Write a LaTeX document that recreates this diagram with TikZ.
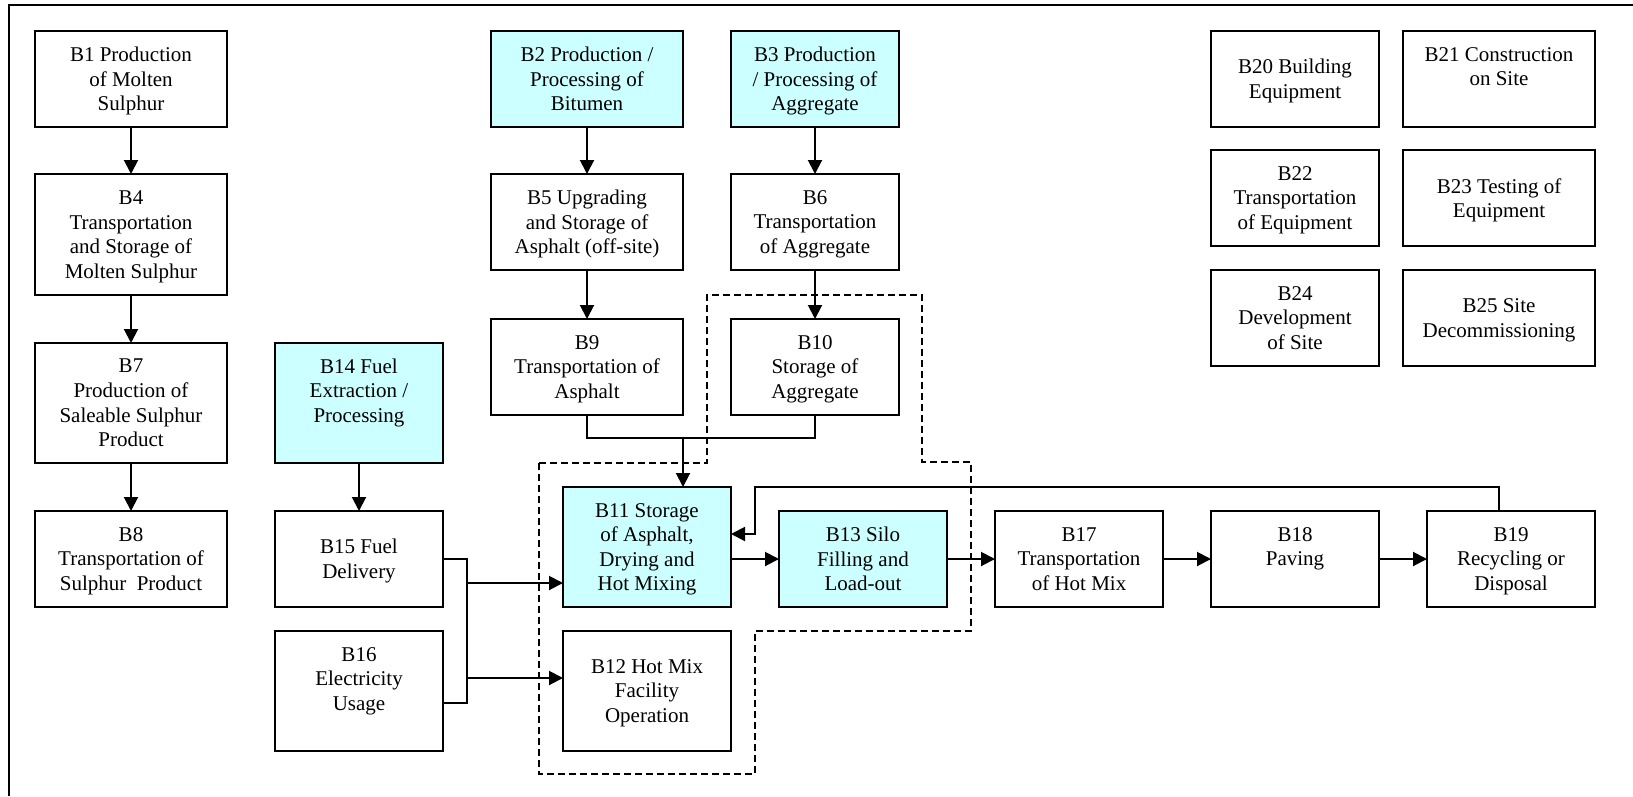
\documentclass[tikz,border=0pt]{standalone}
\usepackage{fontspec}
\setmainfont{Liberation Serif}
\usetikzlibrary{positioning,arrows.meta}
\definecolor{procfill}{RGB}{204,255,255}
\tikzset{
  blk/.style={draw, line width=2pt, inner sep=0pt, outer sep=0pt, align=center,
    minimum width=168pt, minimum height=96pt, font=\fontsize{21}{24.6}\selectfont, text depth=-3pt},
  wide/.style={minimum width=192pt},
  tall/.style={minimum height=120pt},
  hot/.style={fill=procfill},
  flow/.style={line width=2pt, -{Triangle[length=14pt,width=14pt]}},
  link/.style={line width=2pt},
  zone/.style={line width=1.8pt, dash pattern=on 7pt off 4pt}
}

\begin{document}
\begin{tikzpicture}[x=1pt,y=-1pt]
  \useasboundingbox (0,0) rectangle (1633,796);
  \draw[link] (1633,5) -- (9,5) -- (9,796);

  \node[blk, wide] (b1) at (131,79) {B1 Production\\ of Molten\\ Sulphur};
  \node[blk, wide, minimum height=121pt, below=47pt of b1] (b4) {B4\\ Transportation\\ and Storage of\\ Molten Sulphur};
  \node[blk, wide, tall, below=48pt of b4] (b7) {B7\\ Production of\\ Saleable Sulphur\\ Product};
  \node[blk, wide, below=48pt of b7] (b8) {B8\\ Transportation of\\ Sulphur~~Product};

  \node[blk, wide, hot, right=264pt of b1] (b2) {B2 Production /\\ Processing of\\ Bitumen};
  \node[blk, hot, right=48pt of b2] (b3) {B3 Production\\ / Processing of\\ Aggregate};
  \node[blk, wide, below=47pt of b2] (b5) {B5 Upgrading\\ and Storage of\\ Asphalt (off-site)};
  \node[blk, below=47pt of b3] (b6) {B6\\ Transportation\\ of Aggregate};
  \node[blk, wide, below=49pt of b5] (b9) {B9\\ Transportation of\\ Asphalt};
  \node[blk, below=49pt of b6] (b10) {B10\\ Storage of\\ Aggregate};

  \node[blk, tall, hot, right=48pt of b7] (b14) {B14 Fuel\\ Extraction /\\ Processing\\ \mbox{}};
  \node[blk, below=48pt of b14] (b15) {B15 Fuel\\ Delivery};
  \node[blk, tall, below=24pt of b15] (b16) {B16\\ Electricity\\ Usage\\ \mbox{}};

  \node[blk, tall, hot, right=120pt of b15.south east, anchor=south west] (b11) {B11 Storage\\ of Asphalt,\\ Drying and\\ Hot Mixing};
  \node[blk, tall, below=24pt of b11] (b12) {B12 Hot Mix\\ Facility\\ Operation};
  \node[blk, hot, right=48pt of b11.south east, anchor=south west] (b13) {B13 Silo\\ Filling and\\ Load-out};
  \node[blk, right=48pt of b13] (b17) {B17\\ Transportation\\ of Hot Mix};
  \node[blk, right=48pt of b17] (b18) {B18\\ Paving\\ \mbox{}};
  \node[blk, right=48pt of b18] (b19) {B19\\ Recycling or\\ Disposal};

  \node[blk] (b20) at (1295,79) {B20 Building\\ Equipment};
  \node[blk, wide, right=24pt of b20] (b21) {B21 Construction\\ on Site\\ \mbox{}};
  \node[blk, below=23pt of b20] (b22) {B22\\ Transportation\\ of Equipment};
  \node[blk, wide, below=23pt of b21] (b23) {B23 Testing of\\ Equipment};
  \node[blk, below=24pt of b22] (b24) {B24\\ Development\\ of Site};
  \node[blk, wide, below=24pt of b23] (b25) {B25 Site\\ Decommissioning};

  \draw[zone] (539,463) -- (707,463) -- (707,295) -- (922,295) -- (922,462) -- (971,462)
    -- (971,631) -- (755,631) -- (755,774) -- (539,774) -- cycle;

  \coordinate (aggjoin) at ([yshift=-23pt]b9.south east);
  \coordinate (fuelbus) at ([xshift=24pt]b15.east);
  \coordinate (elecbus) at (467,703);
  \coordinate (tob11) at (467,583);
  \coordinate (tob12) at (467,678);
  \coordinate (recyc) at ([xshift=-12pt]b19.north);
  \coordinate (loopcorner) at (755,487);

  \draw[flow] (b1) -- (b4);
  \draw[flow] (b4) -- (b7);
  \draw[flow] (b7) -- (b8);
  \draw[flow] (b2) -- (b5);
  \draw[flow] (b5) -- (b9);
  \draw[flow] (b3) -- (b6);
  \draw[flow] (b6) -- (b10);
  \draw[flow] (b14) -- (b15);
  \draw[link] (b9.south) |- (aggjoin);
  \draw[link] (b10.south) |- (aggjoin);
  \draw[flow] (aggjoin) -- (aggjoin |- b11.north);
  \draw[link] (b15.east) -- (fuelbus) -- (elecbus) -- (b16.east |- elecbus);
  \draw[flow] (tob11) -- (b11.west |- tob11);
  \draw[flow] (tob12) -- (b12.west |- tob12);
  \draw[flow] (b11.east |- b13.west) -- (b13.west);
  \draw[flow] (b13) -- (b17);
  \draw[flow] (b17) -- (b18);
  \draw[flow] (b18) -- (b19);
  \draw[flow] (recyc) |- (loopcorner) |- ([yshift=13pt]b11.east);
\end{tikzpicture}
\end{document}
